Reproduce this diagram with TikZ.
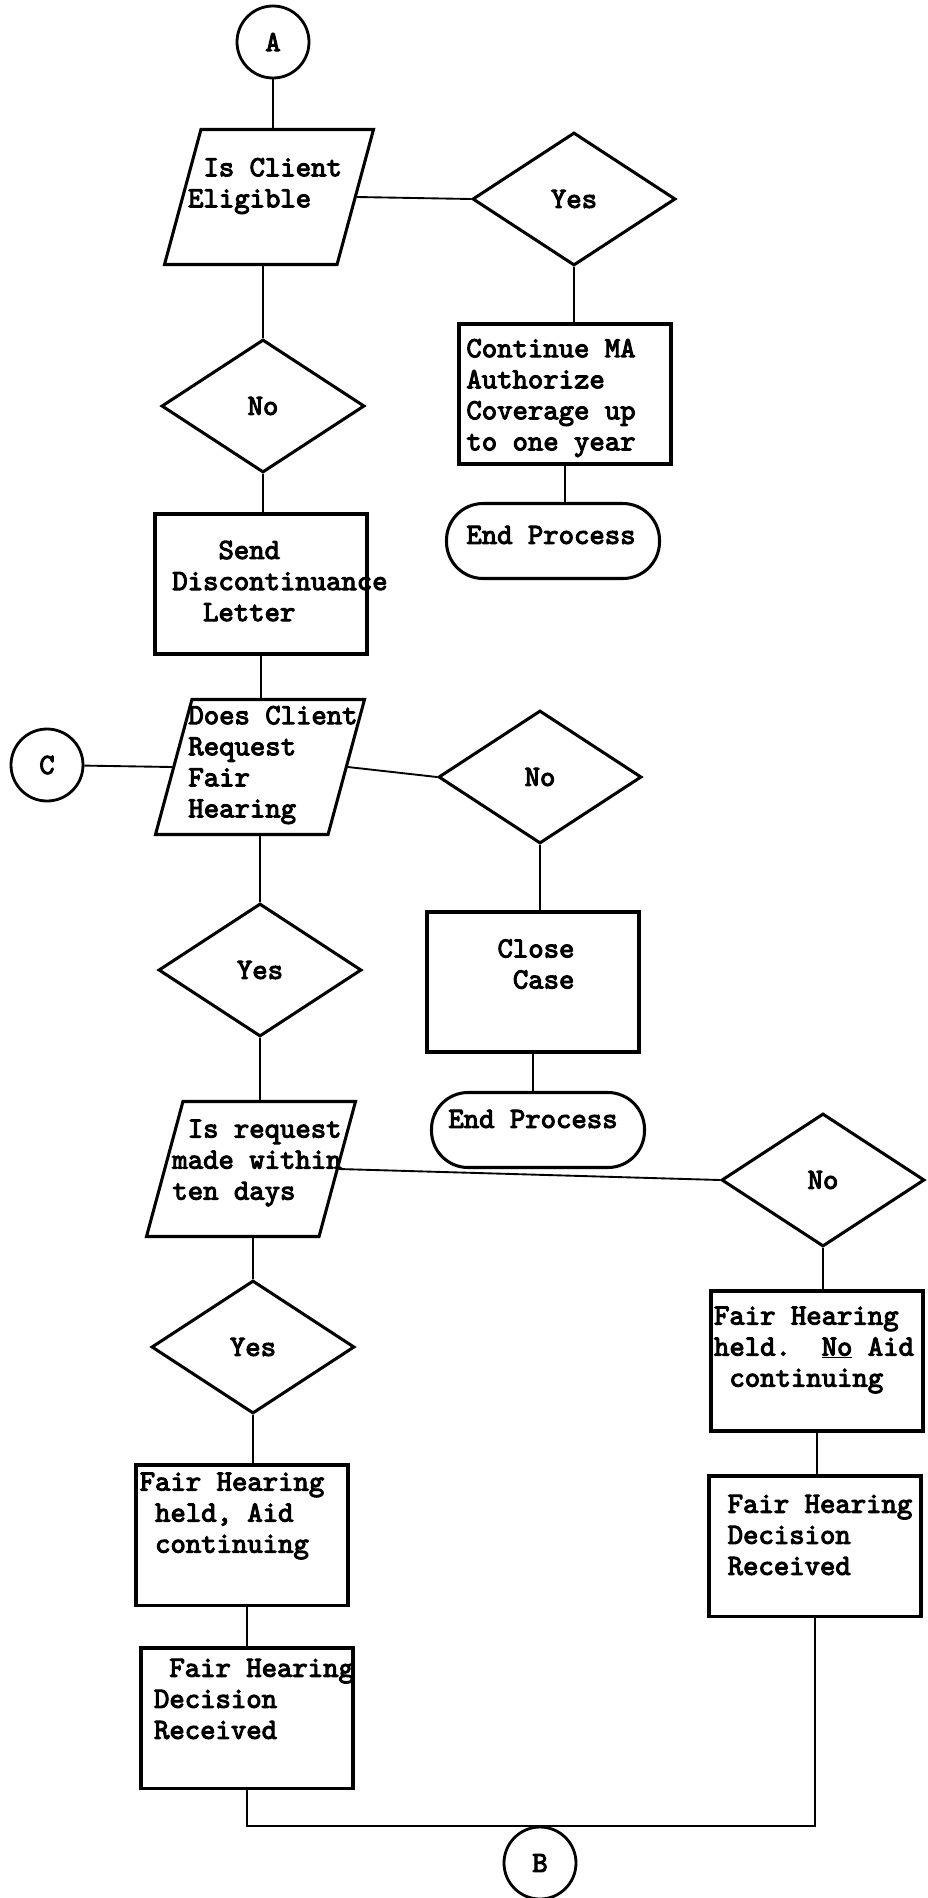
\documentclass[tikz,border=0pt]{standalone}
\usepackage{fontspec}
\newfontfamily\typer{lmmono10-regular}[Extension=.otf, FakeBold=3.5]
\usetikzlibrary{shapes.geometric}
\newcommand{\tsz}{\fontsize{25}{26.5}\selectfont}
\newcommand{\typesp}{\hspace*{0.525em}}

\begin{document}
\begin{tikzpicture}[x=0.03cm, y=-0.03cm,
		wire/.style={line width=1.6pt},
		typed/.style={font=\typer\tsz, align=left, inner sep=0pt},
		askbox/.style={draw, line width=2.6pt, trapezium, trapezium left angle=75,
			trapezium right angle=105, trapezium stretches=true,
			minimum width=6.27cm, minimum height=4.05cm, inner sep=3pt},
		pickbox/.style={draw, line width=2.6pt, diamond, minimum width=6.09cm,
			minimum height=3.99cm, inner sep=0pt, font=\typer\tsz},
		stepbox/.style={draw, line width=2.6pt, minimum width=6.36cm,
			minimum height=4.2cm, inner sep=0pt},
		endbox/.style={draw, line width=2.6pt, rounded corners=1.1cm,
			minimum width=6.39cm, minimum height=2.25cm, inner sep=0pt},
		linkbox/.style={draw, circle, line width=2.4pt, minimum size=2.16cm,
			inner sep=0pt, font=\typer\tsz}]
	\useasboundingbox (0,0) rectangle (928,1898);

	\node[linkbox] (A) at (273,42) {A};
	\node[askbox] (elig) at (269,197) {};
	\node[typed] (eligtxt) at (265,186) {\typesp Is Client\\Eligible};
	\node[pickbox] (yes1) at (574,199) {Yes};
	\node[stepbox] (cont) at (565,394) {};
	\node[typed] (conttxt) at (551,398) {Continue MA\\Authorize\\Coverage up\\to one year};
	\node[endbox] (end1) at (553,541) {};
	\node[typed] (end1txt) at (551,535) {End Process};
	\node[pickbox] (no1) at (263,406) {No};
	\node[stepbox] (disc) at (261,584) {};
	\node[typed] (disctxt) at (280,581) {\typesp\typesp\typesp Send\\Discontinuance\\\typesp\typesp Letter};

	\node[askbox] (req) at (260,767) {};
	\node[typed] (reqtxt) at (273,765) {Does Client\\Request\\Fair\\Hearing};
	\node[linkbox] (C) at (47,765) {C};
	\node[pickbox] (no2) at (540,777) {No};
	\node[stepbox] (close) at (533,982) {};
	\node[typed] (closetxt) at (536,964) {Close\\\typesp Case};
	\node[endbox] (end2) at (538,1130) {};
	\node[typed] (end2txt) at (533,1119) {End Process};
	\node[pickbox] (yes2) at (260,970) {Yes};

	\node[askbox] (ten) at (251,1169) {};
	\node[typed] (tentxt) at (257,1163) {\typesp Is request\\made within\\ten days};
	\node[pickbox] (no3) at (823,1180) {No};
	\node[stepbox] (heldno) at (817,1361) {};
	\node[typed] (heldnotxt) at (814,1350) {Fair Hearing\\held.\typesp\typesp\underline{No} Aid\\\typesp continuing};
	\node[stepbox] (dec2) at (815,1546) {};
	\node[typed] (dec2txt) at (820,1535) {Fair Hearing\\Decision\\Received};
	\node[pickbox] (yes3) at (253,1347) {Yes};
	\node[stepbox] (held) at (242,1535) {};
	\node[typed] (heldtxt) at (232,1516) {Fair Hearing\\\typesp held, Aid\\\typesp continuing};
	\node[stepbox] (dec1) at (247,1718) {};
	\node[typed] (dec1txt) at (254,1699) {\typesp Fair Hearing\\Decision\\Received};
	\node[linkbox] (B) at (540,1863) {B};

	\draw[wire] (A) -- (A |- elig.north);
	\draw[wire] (elig.east) -- (yes1.west);
	\draw[wire] (yes1) -- (yes1 |- cont.north);
	\draw[wire] (cont) -- (cont |- end1.north);
	\draw[wire] (elig.south -| no1.north) -- (no1);
	\draw[wire] (no1) -- (no1 |- disc.north);
	\draw[wire] (disc) -- (disc |- req.north);
	\draw[wire] (C) -- (req.west);
	\draw[wire] (req.east) -- (no2.west);
	\draw[wire] (no2) -- (no2 |- close.north);
	\draw[wire] (close) -- (close |- end2.north);
	\draw[wire] (req.south -| yes2.north) -- (yes2);
	\draw[wire] (yes2) -- (yes2 |- ten.north);
	\draw[wire] (ten.east) -- (no3.west);
	\draw[wire] (ten.south -| yes3.north) -- (yes3);
	\draw[wire] (yes3) -- (yes3 |- held.north);
	\draw[wire] (held.south -| dec1.north) -- (dec1);
	\draw[wire] (no3) -- (no3 |- heldno.north);
	\draw[wire] (heldno) -- (heldno |- dec2.north);
	\draw[wire] (dec1.south) |- (B.north) -| (dec2.south);
\end{tikzpicture}
\end{document}
